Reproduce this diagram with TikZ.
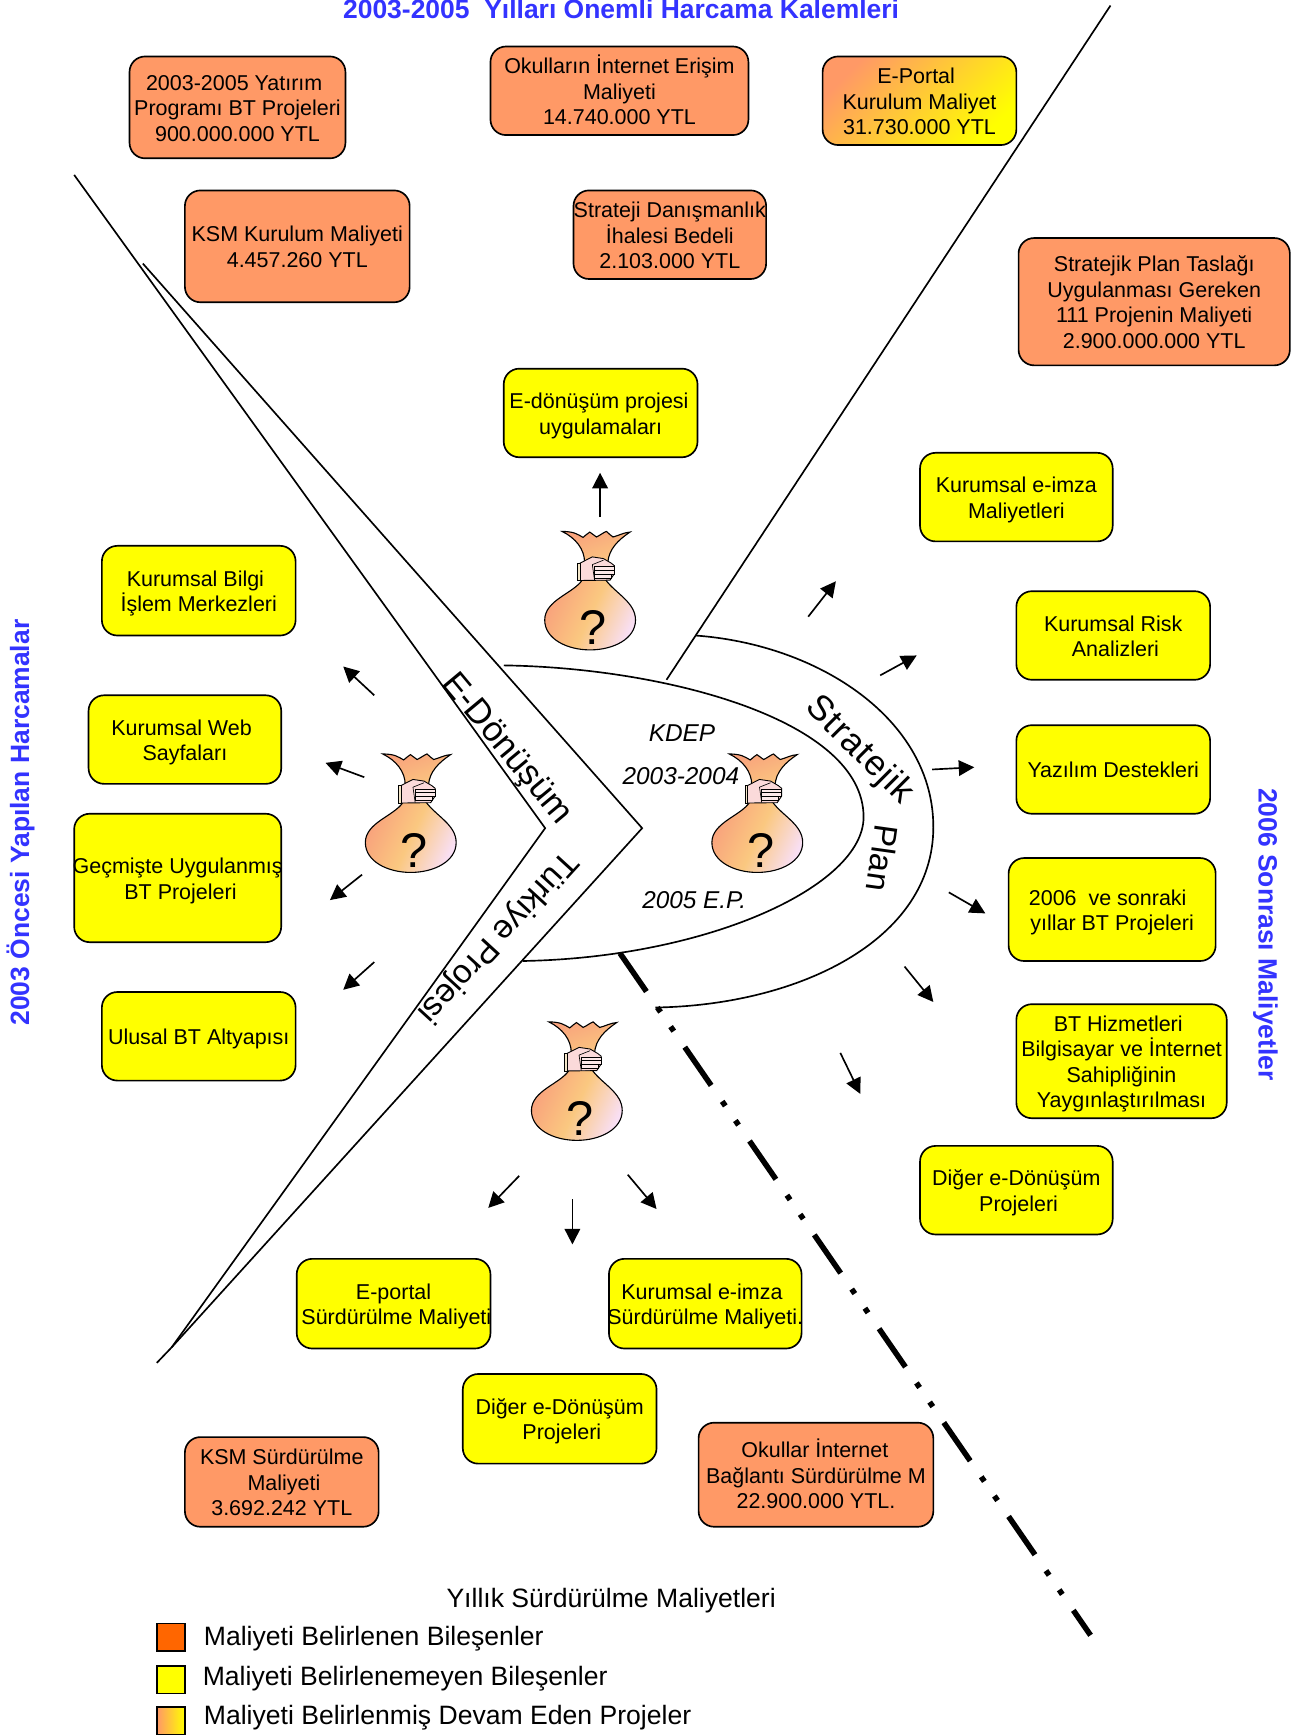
\documentclass[tikz,border=0pt]{standalone}
\usepackage{fontspec}
\setmainfont{Liberation Sans}
\usetikzlibrary{arrows.meta}
\definecolor{orbox}{HTML}{FF9966}
\definecolor{ylbox}{HTML}{FFFF00}
\definecolor{legor}{HTML}{FF6600}
\definecolor{titleblue}{HTML}{3333FF}
\definecolor{bagA}{HTML}{F9A27C}
\definecolor{bagB}{HTML}{FAC880}
\definecolor{bagC}{HTML}{F9DFF4}
\definecolor{handpink}{HTML}{FBDADA}
\definecolor{cuffcol}{HTML}{F3E6C8}
\tikzset{
  x=1pt,y=-1pt,
  rbox/.style={draw=black,line width=1.5pt,rounded corners=14pt,inner ysep=0pt,inner xsep=-5pt,align=center,
    font=\fontsize{19.4}{23}\selectfont},
  obox/.style={rbox,fill=orbox},
  ybox/.style={rbox,fill=ylbox},
  gbox/.style={rbox,left color=orbox,right color=ylbox,shading angle=45},
  frame/.style={draw=black,line width=1.5pt},
  flow/.style={draw=black,line width=1.5pt,-{Triangle[length=14pt,width=14pt]}},
  headblue/.style={text=titleblue,font=\fontsize{23.9}{26}\selectfont\bfseries,inner sep=0pt},
  band/.style={font=\fontsize{30}{34}\selectfont,inner sep=0pt},
  period/.style={font=\fontsize{22}{26}\selectfont\itshape,inner sep=0pt},
  legtext/.style={font=\fontsize{24}{28}\selectfont,inner sep=0pt,anchor=west},
  legsq/.style={draw=black,line width=1.5pt,inner sep=0pt,minimum width=25pt,minimum height=25pt},
  moneybag/.pic={
    \path[draw=black,line width=1pt,left color=bagA,right color=bagB,shading angle=20]
      (15.7,0) .. controls (20,0) and (24,.5) .. (27,1.5) .. controls (30,2.5) and (32,4) .. (34.6,5.4)
      .. controls (37,3.5) and (39,1.5) .. (40.7,.6) .. controls (43,2) and (45,4) .. (46.7,5)
      .. controls (50,3.5) and (53,1) .. (55.7,0) .. controls (58,2) and (60,4) .. (61.7,5)
      .. controls (66,4) and (72,.8) .. (77,.6)
      .. controls (66,8) and (58,16) .. (57,28) -- (36,28)
      .. controls (36,16) and (28,6) .. (15.7,0) -- cycle;
    \path[draw=black,line width=1pt,left color=bagA,right color=bagC,middle color=bagB,shading angle=65]
      (34,43.7) -- (55,43.7)
      .. controls (64,56) and (82,64) .. (82,80)
      .. controls (82,97) and (62,107) .. (41,107)
      .. controls (20,107) and (0,97) .. (0,80)
      .. controls (0,62) and (26,56) .. (34,43.7) -- cycle;
    \path[draw=black,line width=.8pt,fill=handpink]
      (32,28.6) -- (43,23) -- (53,24.5) -- (60,28.6) -- (63,31) -- (63,38) -- (59,44) -- (32,44.3) -- cycle;
    \path[draw=black,line width=.8pt,fill=cuffcol] (30,28.6) rectangle (32.5,44.3);
    \path[draw=black,line width=.5pt,fill=handpink!60!white] (45,31.6) rectangle (63,35) (45,35) rectangle (63,38.5) (45,38.5) rectangle (60,42);
    \path[draw=black,line width=.6pt] (43,30) -- (45,44) (43,30) -- (53,26);
    \node[font=\fontsize{44}{48}\selectfont,inner sep=0pt] (-q) at (44,87) {?};
  }
}
\newcommand{\strutA}{\rule{0pt}{19.5pt}}
\newcommand{\strutB}{\rule[-4.5pt]{0pt}{4.5pt}}
\newcommand{\mvr}[1]{\kern #1pt\kern #1pt }% move this centred line right
\newcommand{\mvl}[1]{\kern #1pt\kern #1pt }% move this centred line left (put at line end)
\newcommand{\bx}[7]{% name, style, x1, y1, x2, y2, text
  \pgfmathsetmacro{\cxv}{(#3+#5)/2}\pgfmathsetmacro{\cyv}{(#4+#6)/2}
  \pgfmathsetmacro{\wv}{#5-#3}\pgfmathsetmacro{\hv}{#6-#4}
  \node[#2,minimum width=\wv pt,minimum height=\hv pt] (#1) at (\cxv,\cyv) {\strutA #7\strutB};
}
\newcommand{\arw}[5]{% name, from, to
  \coordinate (#1s) at (#2,#3); \coordinate (#1e) at (#4,#5);
  \draw[flow] (#1s) -- (#1e);
}
\begin{document}
\begin{tikzpicture}
\useasboundingbox (0,0) rectangle (1179,1568);
% frames
\coordinate (innerTop) at (67,158);
\coordinate (innerApex) at (492.4,748);
\coordinate (tail) at (141.6,1231);
\coordinate (outerTop) at (129,238);
\coordinate (outerApex) at (580,748);
\coordinate (merge) at (155,1217);
\coordinate (rightTop) at (1003,5);
\coordinate (rightFoot) at (602,614);
\draw[frame,line join=miter] (innerTop) -- (innerApex) -- (merge) -- (tail);
\draw[frame,line join=miter] (outerTop) -- (outerApex) -- (merge);
\draw[frame] (rightTop) -- (rightFoot);
\draw[frame] (455,601) .. controls (600,603) and (780,650) .. (780,738)
   .. controls (780,800) and (640,865) .. (472,868);
\draw[frame] (628,574) .. controls (740,582) and (843,650) .. (843,747)
   .. controls (843,850) and (720,908) .. (592,910);
\coordinate (dashS) at (560,861);
\coordinate (dashE) at (985,1477);
\draw[line width=5pt,dash pattern=on 42pt off 17.5pt on 5pt off 16pt on 5pt off 17.5pt] (dashS) -- (dashE);
% titles
\node[headblue] (ttop) at (561,6.5) {2003-2005\ \ Yılları Önemli Harcama Kalemleri};
\node[headblue,rotate=90] (tleft) at (18.5,743) {2003 Öncesi Yapılan Harcamalar};
\node[headblue,rotate=-90] (tright) at (1143,844) {2006 Sonrası Maliyetler};
% top boxes
\bx{b1}{obox}{117}{51}{312}{143}{2003-2005 Yatırım\mvl{3}\\Programı BT Projeleri\\900.000.000 YTL}
\bx{b2}{obox}{443}{42}{676}{122}{Okulların İnternet Erişim\\Maliyeti\\14.740.000 YTL}
\bx{b3}{gbox}{743}{51}{918}{131}{E-Portal\mvl{3}\\Kurulum Maliyet\\31.730.000 YTL}
\bx{b4}{obox}{167}{172}{370}{273}{KSM Kurulum Maliyeti\\4.457.260 YTL}
\bx{b5}{obox}{518}{172}{692}{252}{Strateji Danışmanlık\\İhalesi Bedeli\\2.103.000 YTL}
\bx{b6}{obox}{920}{215}{1165}{330}{Stratejik Plan Taslağı\\Uygulanması Gereken\\111 Projenin Maliyeti\\2.900.000.000 YTL}
\bx{b7}{ybox}{455}{333}{630}{413}{E-dönüşüm projesi\mvl{1.5}\\uygulamaları}
% right
\bx{b8}{ybox}{831}{409}{1005}{489}{Kurumsal e-imza\\Maliyetleri}
\bx{b9}{ybox}{918}{534}{1093}{614}{Kurumsal Risk\\\mvr{2}Analizleri}
\bx{b10}{ybox}{918}{655}{1093}{735}{Yazılım Destekleri}
\bx{b11}{ybox}{911}{775}{1098}{868}{2006\ \ ve sonraki\mvl{4}\\yıllar BT Projeleri}
\bx{b12}{ybox}{918}{907}{1108}{1010}{BT Hizmetleri\mvl{3}\\Bilgisayar ve İnternet\\Sahipliğinin\\Yaygınlaştırılması}
\bx{b13}{ybox}{831}{1035}{1005}{1115}{Diğer e-Dönüşüm\\\mvr{2}Projeleri}
% left
\bx{b14}{ybox}{92}{493}{267}{574}{Kurumsal Bilgi\mvl{3}\\İşlem Merkezleri}
\bx{b15}{ybox}{80}{628}{254}{708}{Kurumsal Web\mvl{3}\\Sayfaları}
\bx{b16}{ybox}{67}{735}{254}{851}{Geçmişte Uygulanmış\\\mvr{2.5}BT Projeleri}
\bx{b17}{ybox}{92}{896}{267}{976}{Ulusal BT Altyapısı}
% bottom
\bx{b18}{ybox}{268}{1137}{443}{1218}{E-portal\\\mvr{2.5}Sürdürülme Maliyeti}
\bx{b19}{ybox}{550}{1137}{724}{1218}{Kurumsal e-imza\mvl{3}\\Sürdürülme Maliyeti.}
\bx{b20}{ybox}{418}{1241}{593}{1322}{Diğer e-Dönüşüm\\\mvr{2}Projeleri}
\bx{b21}{obox}{167}{1298}{342}{1379}{KSM Sürdürülme\\\mvr{2}Maliyeti\\3.692.242 YTL}
\bx{b22}{obox}{631}{1285}{843}{1379}{Okullar İnternet\mvl{1}\\Bağlantı Sürdürülme M\\22.900.000 YTL.}
% bags
\pic (bagtop) at (492,480) {moneybag};
\pic (bagleft) at (330,681) {moneybag};
\pic (bagmid) at (643,681) {moneybag};
\pic (bagbot) at (480,923) {moneybag};
% arrows
\arw{a1}{542}{467}{542}{427}
\arw{a2}{730}{557}{755}{525}
\arw{a3}{795}{610}{828}{592}
\arw{a4}{842}{695}{880}{693}
\arw{a5}{857}{806}{890}{825}
\arw{a6}{817}{873}{843}{905}
\arw{a7}{759}{951}{777}{988}
\arw{a8}{338}{628}{310}{602}
\arw{a9}{329}{702}{294}{689}
\arw{a10}{327}{790}{298}{813}
\arw{a11}{338}{869}{310}{894}
\arw{a12}{469}{1062}{441}{1091}
\arw{a13}{517}{1083}{517}{1124}
\arw{a14}{567}{1061}{593}{1092}
% band labels
\node[font=\fontsize{31.5}{36}\selectfont,inner sep=0pt,rotate=-50.2] (edon) at (457,677) {E-Dönüşüm};
\node[band,rotate=-132.5] (tpro) at (449,846) {Türkiye Projesi};
\node[font=\fontsize{32}{36}\selectfont\addfontfeature{LetterSpace=3},inner sep=0pt,rotate=-45] (strat) at (776,678) {Stratejik};
\node[band,rotate=-98] (plan) at (797,775) {Plan};
\node[period] (kdep) at (616,662) {KDEP};
\node[period] (y34) at (615,701) {2003-2004};
\node[period] (y05) at (627,813) {2005 E.P.};
% legend
\node[font=\fontsize{24}{28}\selectfont,inner sep=0pt] (legt) at (552,1446) {Yıllık Sürdürülme Maliyetleri};
\node[legsq,fill=legor] (l1) at (154.5,1479) {};
\node[legsq,fill=ylbox] (l2) at (154.5,1517) {};
\node[legsq,left color=orbox,right color=ylbox] (l3) at (154.5,1554) {};
\node[legtext] (lt1) at (184,1480) {Maliyeti Belirlenen Bileşenler};
\node[legtext] (lt2) at (183,1516) {Maliyeti Belirlenemeyen Bileşenler};
\node[legtext] (lt3) at (184,1551) {Maliyeti Belirlenmiş Devam Eden Projeler};
\end{tikzpicture}
\end{document}
